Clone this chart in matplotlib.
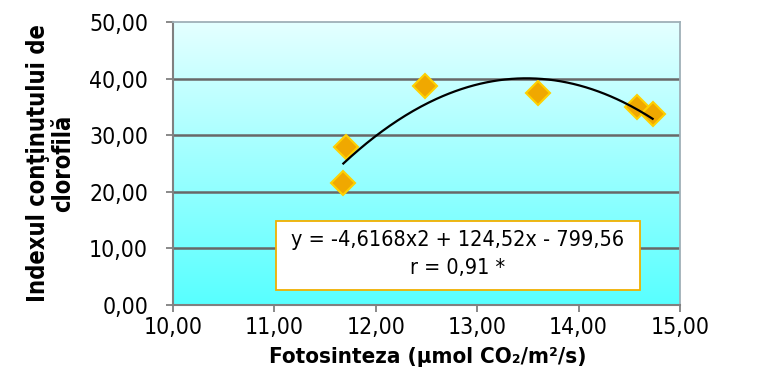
import numpy as np
import matplotlib
matplotlib.use("Agg")
import matplotlib.pyplot as plt
from matplotlib.ticker import FuncFormatter
from matplotlib.patches import Rectangle

# Data
fotosinteza = [11.68, 11.71, 12.49, 13.60, 14.58, 14.73]
clorofila = [21.5, 27.9, 38.7, 37.5, 34.9, 33.7]
trend_coefs = [-4.6168, 124.52, -799.56]
x_ticks = [10, 11, 12, 13, 14, 15]
y_ticks = [0, 10, 20, 30, 40, 50]
equation_line1 = "y = -4,6168x2 + 124,52x - 799,56"
equation_line2 = "r = 0,91 *"
x_label = "Fotosinteza (μmol CO₂/m²/s)"
y_label = "Indexul conţinutului de\nclorofilă"

plt.rcParams['font.family'] = ['DejaVu Sans']
plt.rcParams['font.stretch'] = 'condensed'

fig = plt.figure(figsize=(7.79, 3.90), dpi=100)
ax = fig.add_axes([173/779, 1-305/390, (680-173)/779, (305-22)/390])

# gradient background
top = np.array([228, 255, 255]) / 255
bot = np.array([88, 255, 255]) / 255
t = np.linspace(0, 1, 256)[:, None]
grad = (top[None, :] * (1 - t) + bot[None, :] * t)[:, None, :]
ax.imshow(grad, extent=[0, 1, 0, 1], transform=ax.transAxes, aspect='auto', zorder=0, interpolation='bilinear')

for yv in y_ticks[1:-1]:
    ax.axhline(yv, color='#686868', lw=1.8, zorder=1)

# trendline
xs = np.linspace(min(fotosinteza), max(fotosinteza), 200)
ys = np.polyval(trend_coefs, xs)
ax.plot(xs, ys, color='black', lw=1.6, zorder=4)

ax.plot(fotosinteza, clorofila, linestyle='none', marker='D', ms=12,
        markerfacecolor='#F0A800', markeredgecolor='#FFD000', markeredgewidth=1.5, zorder=3)

ax.set_xlim(10, 15)
ax.set_ylim(0, 50)
ax.set_xticks(x_ticks)
ax.set_yticks(y_ticks)
fmt = FuncFormatter(lambda v, p: f"{v:.2f}".replace('.', ','))
ax.xaxis.set_major_formatter(fmt)
ax.yaxis.set_major_formatter(fmt)
ax.tick_params(labelsize=16.5, length=5, width=1.3, direction='out', colors='#808080', labelcolor='black')
ax.tick_params(axis='y', pad=13)
ax.tick_params(axis='x', pad=3)

for s in ['left', 'bottom']:
    ax.spines[s].set_color('#808080')
    ax.spines[s].set_linewidth(1.5)
for s in ['top', 'right']:
    ax.spines[s].set_color('#9fb0b8')
    ax.spines[s].set_linewidth(1.3)

ax.set_xlabel(x_label, fontsize=16, fontweight='bold')
ax.xaxis.set_label_coords(0.503, -0.15)
ax.set_ylabel(y_label, fontsize=17, fontweight='bold', linespacing=1.05)
ax.yaxis.set_label_coords(-0.193, 0.5)

ax.add_patch(Rectangle((0.203, 0.053), 0.718, 0.244, transform=ax.transAxes,
                       facecolor='white', edgecolor='#F0B000', lw=1.3, zorder=5))
ax.text(0.562, 0.23, equation_line1, transform=ax.transAxes, ha='center', va='center',
        fontsize=15.5, zorder=6)
ax.text(0.562, 0.131, equation_line2, transform=ax.transAxes, ha='center', va='center',
        fontsize=15.5, zorder=6)

fig.savefig('out.png', dpi=100)
